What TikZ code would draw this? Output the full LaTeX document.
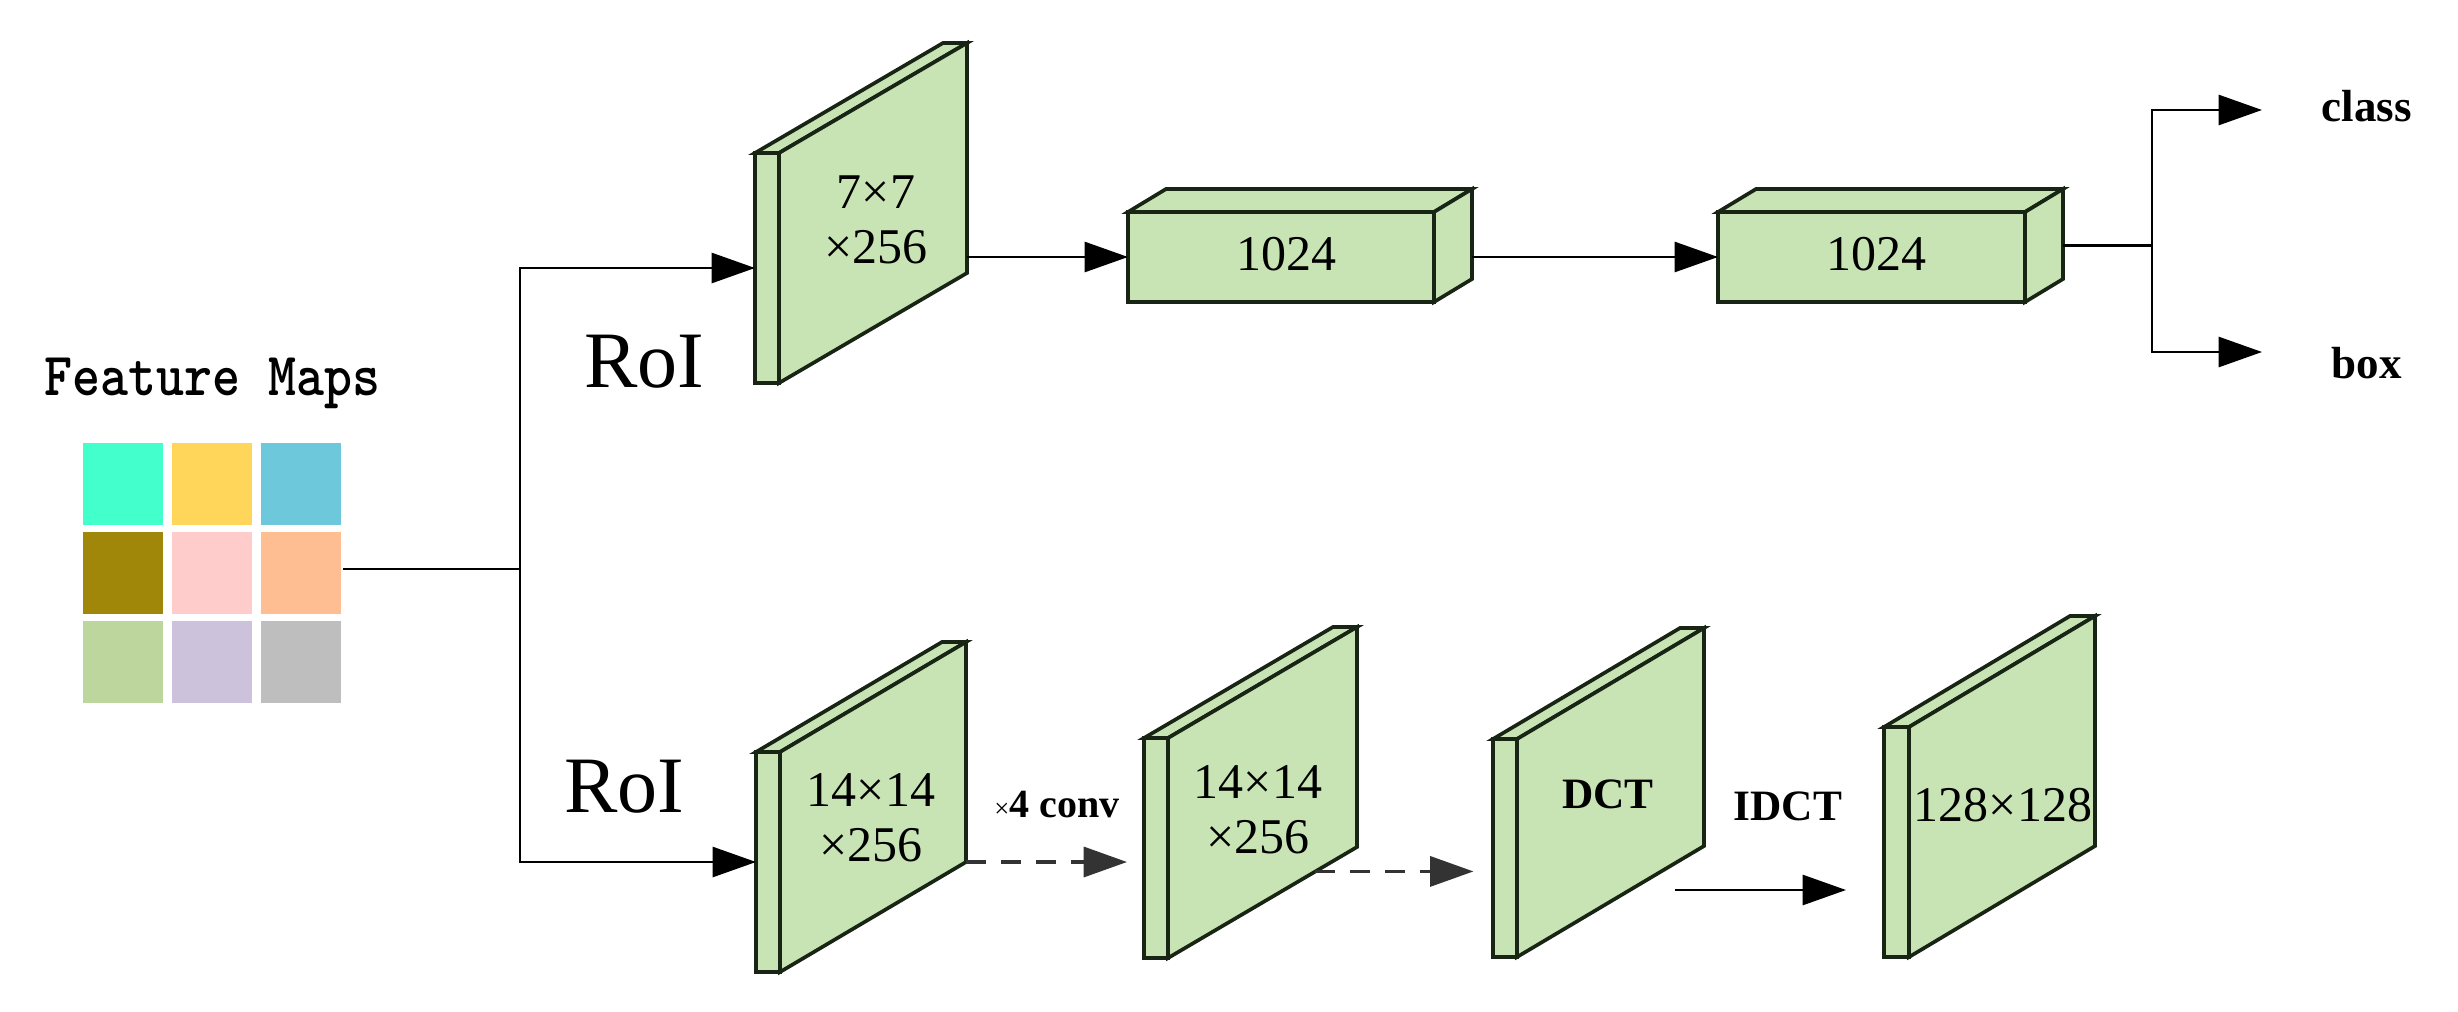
\documentclass[tikz,border=0pt]{standalone}
\usepackage{fontspec}
\setmainfont{Liberation Serif}
\usetikzlibrary{arrows.meta,calc,positioning}

\definecolor{boxgreen}{RGB}{200,228,180}
\definecolor{edgecol}{RGB}{24,36,20}
\definecolor{fmA}{RGB}{66,255,204}
\definecolor{fmB}{RGB}{255,214,90}
\definecolor{fmC}{RGB}{108,200,218}
\definecolor{fmD}{RGB}{160,135,10}
\definecolor{fmE}{RGB}{255,204,204}
\definecolor{fmF}{RGB}{255,190,145}
\definecolor{fmG}{RGB}{188,214,158}
\definecolor{fmH}{RGB}{204,194,220}
\definecolor{fmI}{RGB}{190,190,190}

\tikzset{every picture/.style={line width=0.75pt}}
\tikzset{
  arr/.style={-{Triangle[length=13pt,width=9pt]}, line width=0.8pt},
  darr/.style={arr, dash pattern={on 6pt off 4.5pt}, draw=black!80, line width=1pt},
  face/.style={draw=edgecol, fill=boxgreen, line width=1.1pt, line join=miter},
  facelbl/.style={inner sep=0.75pt, font=\fontsize{15}{16.5}\selectfont, align=center},
  outlbl/.style={inner sep=0.75pt, font=\fontsize{13.5}{13.5}\selectfont\bfseries},
  roilbl/.style={inner sep=0.75pt, font=\fontsize{24}{24}\selectfont}
}

% slab: name, x, y (front top left), w, h, dx, dy (depth)
\newcommand{\slab}[7]{%
  \draw[face] (#2,#3) rectangle ({#2+#4},{#3+#5});
  \draw[face] (#2,#3) -- ({#2+#6},{#3+#7}) -- ({#2+#4+#6},{#3+#7}) -- ({#2+#4},#3) -- cycle;
  \draw[face] ({#2+#4},#3) -- ({#2+#4+#6},{#3+#7}) -- ({#2+#4+#6},{#3+#5+#7}) -- ({#2+#4},{#3+#5}) -- cycle;
  \coordinate (#1-w) at (#2,{#3+#5/2});
  \coordinate (#1-e) at ({#2+#4+#6},{#3+#5/2+#7/2});
  \coordinate (#1-sw) at ({#2+#4},{#3+#5});
  \coordinate (#1-se) at ({#2+#4+#6},{#3+#5+#7});
}

\begin{document}
\begin{tikzpicture}[x=0.3pt,y=0.3pt,yscale=-1,xscale=1]
\useasboundingbox (0,0) rectangle (2458,1011);

% Feature maps
\node[anchor=base, inner sep=0.75pt, font=\fontsize{16}{16}\selectfont\ttfamily\bfseries] (fmlbl) at (212,395) {\scalebox{1}[1.15]{Feature Maps}};
\foreach \cx/\cy/\colr in {0/0/fmA,1/0/fmB,2/0/fmC,0/1/fmD,1/1/fmE,2/1/fmF,0/2/fmG,1/2/fmH,2/2/fmI}
  \fill[\colr] ({83+89*\cx},{443+89*\cy}) rectangle ++(80,82);
\coordinate (fm-e) at (343,569);
\coordinate (split) at (520,569);

% upper branch
\slab{p1}{755}{153}{24}{230}{188}{-110}
\slab{b1}{1128}{212}{306}{90}{38}{-23}
\slab{b2}{1718}{212}{307}{90}{38}{-23}

% lower branch
\slab{q1}{756}{752}{24}{220}{186}{-110}
\slab{q2}{1144}{738}{24}{220}{189}{-111}
\slab{q3}{1493}{739}{24}{218}{187}{-111}
\slab{q4}{1884}{727}{25}{230}{186}{-111}

% Text Node
\node[facelbl] (p1lbl) at (876,220) {7×7\\×256};
\node[facelbl] (b1lbl) at (1286,254) {1024};
\node[facelbl] (b2lbl) at (1876,254) {1024};
\node[facelbl] (q1lbl) at (871,818) {14×14\\×256};
\node[facelbl] (q2lbl) at (1258,810) {14×14\\×256};
\node[facelbl, font=\fontsize{13}{13}\selectfont\bfseries] (q3lbl) at (1608,794) {DCT};
\node[facelbl] (q4lbl) at (2003,805) {128×128};
\node[roilbl, anchor=base] (roitop) at (644,387) {RoI};
\node[roilbl, anchor=base] (roibot) at (624,812) {RoI};
\node[inner sep=0.75pt, font=\fontsize{12}{12}\selectfont\bfseries] (convlbl) at (1057,805) {{\mdseries\fontsize{8}{8}\selectfont ×}4 conv};
\node[outlbl, font=\fontsize{13}{13}\selectfont\bfseries] (idctlbl) at (1788,806) {IDCT};
\node[outlbl, anchor=base west] (cls) at (2318,121) {class};
\node[outlbl, anchor=base west] (bx) at (2328,378) {box};

% connectors
\draw (fm-e) -- (split);
\draw[arr] (split) |- (p1-w);
\draw[arr] (split) |- (q1-w);
\draw[arr] (b1-w -| p1-e) -- (b1-w);
\draw[arr] (b2-w -| b1-e) -- (b2-w);
\coordinate (fork) at ($(b2-e)+(89,0)$);
\coordinate (cls-in) at (2262,110);
\coordinate (box-in) at (2262,352);
\draw (b2-e) -- (fork);
\draw[arr] (fork) |- (cls-in);
\draw[arr] (fork) |- (box-in);
\draw[darr] (q1-se) -- ++(161,0) coordinate (conv-end);
\draw[darr] ($(q2-sw)!0.78!(q2-se)$) -- ++(158,0) coordinate (dct-in);
\coordinate (idct-s) at (1675,890);
\draw[arr] (idct-s) -- ++(171,0) coordinate (idct-e);

\end{tikzpicture}
\end{document}
